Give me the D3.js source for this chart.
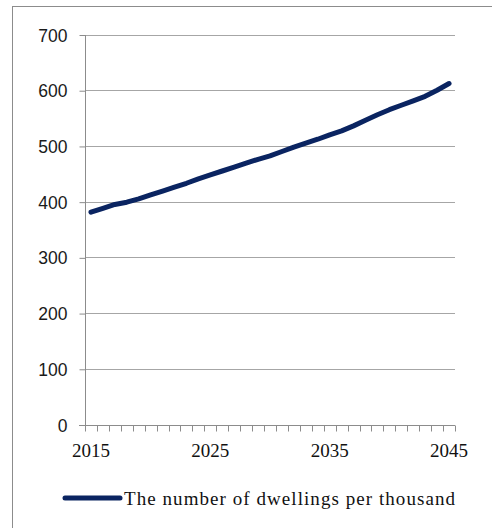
<!DOCTYPE html>
<html>
<head>
<meta charset="utf-8">
<script src="https://cdn.jsdelivr.net/npm/d3@7"></script>
</head>
<body style="margin:0;background:#fff">
<svg id="chart" width="492" height="528" style="display:block;font-family:'Liberation Serif',serif"></svg>
<script>
const years = [2015,2016,2017,2018,2019,2020,2021,2022,2023,2024,2025,2026,2027,2028,2029,2030,2031,2032,2033,2034,2035,2036,2037,2038,2039,2040,2041,2042,2043,2044,2045];
const dwellings = [381,388,395,399,405,412,419,426,433,441,448,455,462,469,476,482,490,498,505,512,520,527,536,546,556,565,573,581,589,600,612];
const yTicks = [0,100,200,300,400,500,600,700];
const xTickLabels = [2015,2025,2035,2045];
const seriesName = "The number of dwellings per thousand";

(function(){
const svg = d3.select("#chart");
const pLeft = 85, pRight = 455, pTop = 34.5, pBottom = 424.5;
const lineColor = "#0a2461";

svg.append("rect").attr("x",12.5).attr("y",6.5).attr("width",492).attr("height",528)
  .attr("fill","none").attr("stroke","#8c8c8c").attr("stroke-width",1);

const x = d3.scaleBand().domain(years).range([pLeft, pRight]).paddingInner(0).paddingOuter(0);
const y = d3.scaleLinear().domain([0,700]).range([pBottom, pTop]);

svg.append("g").selectAll("line").data(yTicks.filter(d=>d>0)).join("line")
  .attr("x1", pLeft).attr("x2", pRight)
  .attr("y1", d=>Math.round(y(d))+0.5).attr("y2", d=>Math.round(y(d))+0.5)
  .attr("stroke","#a6a6a6").attr("stroke-width",1);

const yAxis = svg.append("g").attr("transform",`translate(${pLeft+0.5},0.5)`)
  .call(d3.axisLeft(y).tickValues(yTicks).tickSize(6).tickPadding(12).tickFormat(d3.format("d")));
yAxis.attr("font-family","Liberation Sans, sans-serif").attr("font-size",17.5);
yAxis.select(".domain").attr("stroke","#8c8c8c").attr("d",`M0,${y(700)}V${y(0)}`);
yAxis.selectAll(".tick line").attr("stroke","#8c8c8c");
yAxis.selectAll(".tick text").attr("fill","#1a1a1a").attr("dy","0.35em");

const xg = svg.append("g").attr("transform",`translate(0,${Math.round(pBottom)+0.5})`)
  .attr("font-family","Liberation Serif, serif").attr("font-size",19);
xg.append("line").attr("x1",pLeft-6).attr("x2",pRight).attr("y1",0).attr("y2",0).attr("stroke","#8c8c8c");
const boundaries = years.map(d=>x(d)).concat([x(years[years.length-1])+x.bandwidth()]);
xg.selectAll("line.tk").data(boundaries).join("line").attr("class","tk")
  .attr("x1",d=>Math.round(d)+0.5).attr("x2",d=>Math.round(d)+0.5).attr("y1",0).attr("y2",6)
  .attr("stroke","#8c8c8c");
xg.selectAll("text").data(xTickLabels).join("text")
  .attr("x", d=>x(d)+x.bandwidth()/2).attr("y", 31)
  .attr("text-anchor","middle").attr("fill","#111")
  .text(d=>d);

const line = d3.line().x((d,i)=>x(years[i])+x.bandwidth()/2).y(d=>y(d));
svg.append("path").datum(dwellings).attr("d", line)
  .attr("fill","none").attr("stroke",lineColor).attr("stroke-width",5)
  .attr("stroke-linecap","round").attr("stroke-linejoin","round");

const lg = svg.append("g").attr("font-family","Liberation Serif, serif").attr("font-size",19);
lg.append("line").attr("x1",65).attr("x2",120).attr("y1",498).attr("y2",498)
  .attr("stroke",lineColor).attr("stroke-width",5).attr("stroke-linecap","round");
lg.append("text").attr("x",124).attr("y",504.5).attr("fill","#111")
  .attr("textLength",331).attr("lengthAdjust","spacing")
  .text(seriesName);
})();
</script>
</body>
</html>
